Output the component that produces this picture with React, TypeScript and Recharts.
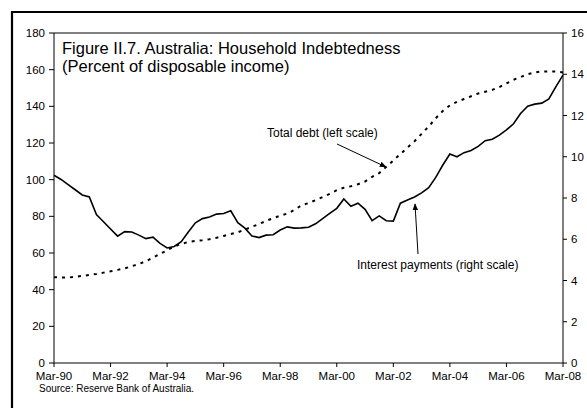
import React from "react";
import { LineChart, Line, XAxis, YAxis, ReferenceLine } from "recharts";

// quarterly, Mar-90 .. Mar-08
const years = [90, 91, 92, 93, 94, 95, 96, 97, 98, 99, 0, 1, 2, 3, 4, 5, 6, 7, 8];
const months = ["Mar", "Jun", "Sep", "Dec"];

// total debt, % of disposable income (left scale)
const totalDebt = [
  46.8, 46.6, 46.6, 47, 47.5, 48, 48.6, 49.3, 50, 50.8, 51.6, 52.8,
  54, 55.5, 57.5, 59.5, 61.5, 63.5, 65, 66, 66.6, 67, 67.5, 68.3,
  69.3, 70.3, 71.3, 72.8, 74.3, 75.8, 77.5, 79, 80.3, 81.5, 83.5, 86,
  87.2, 88.8, 90.5, 92.2, 94.3, 95.6, 96.4, 97.5, 99, 101.5, 103.6, 107,
  110.5, 114, 117.5, 121, 125, 129, 133.5, 137.5, 140.5, 142.5, 144, 145.5,
  147, 148, 149, 150.5, 152.5, 154.5, 156, 157.5, 158.5, 159, 159, 159,
  158.5,
];

// interest payments, % of disposable income (right scale)
const interestPayments = [
  9.1, 8.9, 8.65, 8.4, 8.15, 8.05, 7.2, 6.85, 6.5, 6.15, 6.37, 6.35,
  6.2, 6.03, 6.1, 5.8, 5.58, 5.65, 5.88, 6.35, 6.8, 7.0, 7.08, 7.22,
  7.25, 7.38, 6.8, 6.54, 6.16, 6.08, 6.2, 6.22, 6.45, 6.6, 6.54, 6.55,
  6.58, 6.75, 7.0, 7.25, 7.5, 7.95, 7.6, 7.75, 7.45, 6.9, 7.13, 6.9,
  6.88, 7.75, 7.9, 8.05, 8.25, 8.5, 9.0, 9.6, 10.13, 10.0, 10.2, 10.3,
  10.5, 10.78, 10.85, 11.05, 11.3, 11.6, 12.1, 12.45, 12.55, 12.6, 12.8, 13.4,
  13.96,
];

const xTickLabels = ["Mar-90", "Mar-92", "Mar-94", "Mar-96", "Mar-98", "Mar-00", "Mar-02", "Mar-04", "Mar-06", "Mar-08"];
const leftTicks = [0, 20, 40, 60, 80, 100, 120, 140, 160, 180];
const rightTicks = [0, 2, 4, 6, 8, 10, 12, 14, 16];

const quarters: string[] = [];
years.forEach((y) => months.forEach((m) => quarters.push(m + "-" + String(y).padStart(2, "0"))));

const data = totalDebt.map((d, i) => ({
  q: i,
  label: quarters[i],
  debt: d,
  interest: interestPayments[i],
}));

const xTicks = xTickLabels.map((_, i) => i * 8);

const font = "'Liberation Sans', Arial, sans-serif";
const tickStyle = { fontSize: 11.5, fill: "#000", fontFamily: font };

export default function App() {
  return (
    <div style={{ position: "absolute", left: 0, top: 0, width: 587, height: 408, background: "#fff" }}>
      <LineChart width={587} height={408} data={data} margin={{ top: 33, right: 0, left: 0, bottom: 20 }}>
        <XAxis
          dataKey="q"
          type="number"
          domain={[0, 72]}
          ticks={xTicks}
          tickFormatter={(v: number) => xTickLabels[v / 8]}
          height={25}
          tickSize={4}
          tickMargin={5}
          tick={tickStyle}
          axisLine={{ stroke: "#000" }}
          tickLine={{ stroke: "#000" }}
        />
        <YAxis
          yAxisId="left"
          domain={[0, 180]}
          ticks={leftTicks}
          width={54}
          tickSize={5}
          tickMargin={4}
          tick={tickStyle}
          axisLine={{ stroke: "#000" }}
          tickLine={{ stroke: "#000" }}
        />
        <YAxis
          yAxisId="right"
          orientation="right"
          domain={[0, 16]}
          ticks={rightTicks}
          width={24}
          tickSize={4}
          tickMargin={4}
          tick={tickStyle}
          axisLine={{ stroke: "#000" }}
          tickLine={{ stroke: "#000" }}
        />
        <ReferenceLine yAxisId="left" y={180} stroke="#000" />
        <Line
          yAxisId="left"
          dataKey="debt"
          type="linear"
          stroke="#000"
          strokeWidth={2}
          strokeDasharray="3 5"
          dot={false}
          isAnimationActive={false}
        />
        <Line
          yAxisId="right"
          dataKey="interest"
          type="linear"
          stroke="#000"
          strokeWidth={1.6}
          dot={false}
          isAnimationActive={false}
        />
      </LineChart>
      <svg
        width={587}
        height={408}
        style={{ position: "absolute", left: 0, top: 0, pointerEvents: "none" }}
        fontFamily={font}
      >
        <defs>
          <marker id="ah" viewBox="0 0 10 10" refX="9" refY="5" markerWidth="7" markerHeight="7" orient="auto">
            <path d="M0,1 L10,5 L0,9 z" fill="#000" />
          </marker>
        </defs>
        <path d="M12,408 V12 H587" fill="none" stroke="#000" strokeWidth={2.2} />
        <text x={62} y={54} fontSize={16.5} fill="#000">Figure II.7. Australia: Household Indebtedness</text>
        <text x={62} y={72} fontSize={16.5} fill="#000">(Percent of disposable income)</text>
        <text x={267} y={137} fontSize={12} fill="#000">Total debt (left scale)</text>
        <line x1={337} y1={144} x2={386} y2={167} stroke="#000" strokeWidth={1} markerEnd="url(#ah)" />
        <text x={357} y={269} fontSize={12} fill="#000">Interest payments (right scale)</text>
        <line x1={418} y1={254} x2={415} y2={204} stroke="#000" strokeWidth={1} markerEnd="url(#ah)" />
        <text x={39} y={392} fontSize={10} fill="#000">Source: Reserve Bank of Australia.</text>
      </svg>
    </div>
  );
}
